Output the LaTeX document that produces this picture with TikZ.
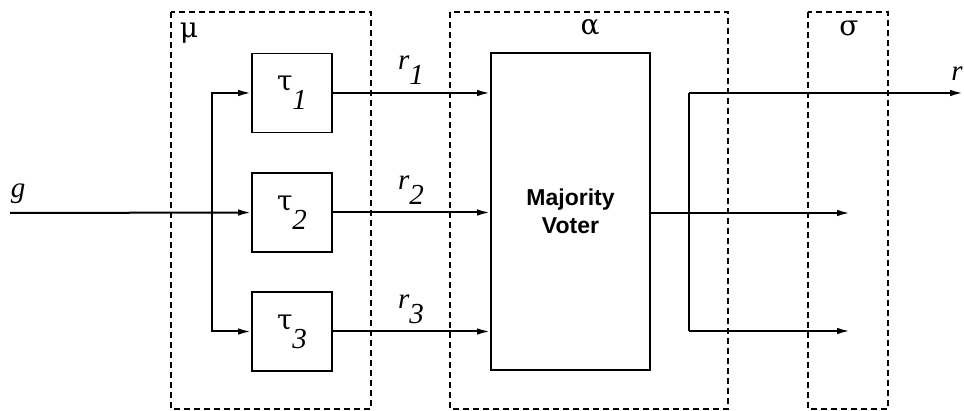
\documentclass[tikz,border=0pt]{standalone}
\usepackage{fontspec}
\setmainfont{Liberation Serif}
\newfontfamily\voterfont{Liberation Sans}
\newfontfamily\greekfont{DejaVu Serif}
\usetikzlibrary{arrows.meta}
\begin{document}
\begin{tikzpicture}[x=1pt,y=-1pt,
  blockbox/.style={draw, line width=1.6pt, minimum width=80pt, minimum height=79pt,
    inner sep=0pt, font=\fontsize{29}{29}\selectfont},
  region/.style={draw, line width=2.4pt, dash pattern=on 6pt off 4pt},
  wire/.style={line width=2pt},
  flow/.style={wire, -{Latex[length=13pt,width=6.5pt]}},
  lbl/.style={inner sep=0pt, font=\fontsize{29}{29}\selectfont},
  glbl/.style={inner sep=0pt, font=\greekfont\fontsize{28}{28}\selectfont}]
\useasboundingbox (0,0) rectangle (964,411);

% replication stage mu, voting stage alpha, selection stage sigma
\draw[region] (171,12) rectangle (371,409);
\draw[region] (450,12) rectangle (728,409);
\draw[region] (808,12) rectangle (888,409);
\node[glbl] (mu) at (189,33) {μ};
\node[glbl] (alpha) at (590,28) {α};
\node[glbl] (sigma) at (849,28) {σ};

% the three task replicas
\node[blockbox] (t1) at (292,93) {{\greekfont\fontsize{28}{28}\selectfont τ}\raisebox{-19pt}{\textit{1}}};
\node[blockbox] (t2) at (292,212.5) {{\greekfont\fontsize{28}{28}\selectfont τ}\raisebox{-19pt}{\textit{2}}};
\node[blockbox] (t3) at (292,331.5) {{\greekfont\fontsize{28}{28}\selectfont τ}\raisebox{-19pt}{\textit{3}}};

% the voter
\node[draw, line width=1.6pt, minimum width=159pt, minimum height=317pt, inner sep=0pt,
  align=center, font=\voterfont\bfseries\fontsize{23}{28}\selectfont] (mv) at (570.5,211.5)
  {Majority\\Voter};

% input g fanned out to the replicas
\coordinate (gin) at (10,213);
\coordinate (fan) at (212,213);
\draw[flow] (gin) -- (t2.west);
\draw[flow] (fan) |- (t1.west);
\draw[flow] (fan) |- (t3.west);
\node[lbl] (g) at (18,194) {\textit{g}};

% replica results into the voter
\draw[flow] (t1.east) -- (t1.east -| mv.west);
\draw[flow] (t2.east) -- (t2.east -| mv.west);
\draw[flow] (t3.east) -- (t3.east -| mv.west);
\node[lbl] (r1) at (411,70) {\textit{r}\raisebox{-15pt}{\textit{1}}};
\node[lbl] (r2) at (411,190) {\textit{r}\raisebox{-15pt}{\textit{2}}};
\node[lbl] (r3) at (411,309) {\textit{r}\raisebox{-15pt}{\textit{3}}};

% voter output fanned out through sigma
\coordinate (vfan) at (689,213);
\coordinate (o1) at (963,93);
\coordinate (o2) at (850,213);
\coordinate (o3) at (850,331);
\draw[flow] (mv.east |- vfan) -- (o2);
\draw[wire] (vfan |- o1) -- (vfan |- o3);
\draw[flow] (vfan |- o1) -- (o1);
\draw[flow] (vfan |- o3) -- (o3);
\node[lbl, anchor=east] (rout) at (963,74) {\textit{r}};
\end{tikzpicture}
\end{document}
